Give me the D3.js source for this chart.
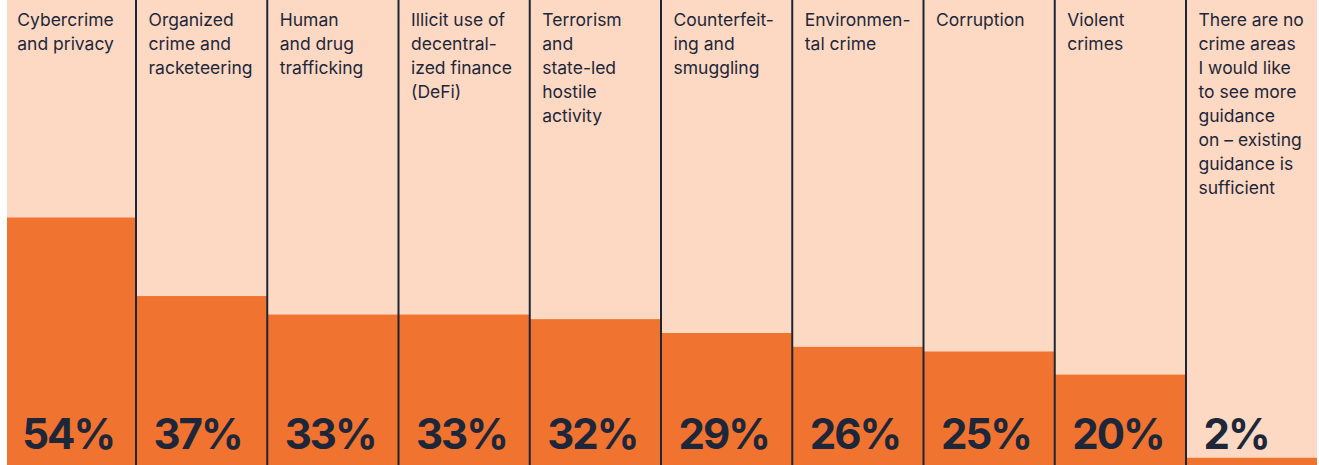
<!DOCTYPE html>
<html>
<head>
<meta charset="utf-8">
<script src="https://cdn.jsdelivr.net/npm/d3@7"></script>
<style>
  html, body { margin: 0; padding: 0; background: #ffffff; }
  svg { display: block; }
</style>
</head>
<body>
<svg id="chart" width="1319" height="465"></svg>
<script>
// Crime areas where respondents would like more guidance
const categories = [
  "Cybercrime and privacy",
  "Organized crime and racketeering",
  "Human and drug trafficking",
  "Illicit use of decentralized finance (DeFi)",
  "Terrorism and state-led hostile activity",
  "Counterfeiting and smuggling",
  "Environmental crime",
  "Corruption",
  "Violent crimes",
  "There are no crime areas I would like to see more guidance on – existing guidance is sufficient"
];
const labelLines = [
  ["Cybercrime", "and privacy"],
  ["Organized", "crime and", "racketeering"],
  ["Human", "and drug", "trafficking"],
  ["Illicit use of", "decentral-", "ized finance", "(DeFi)"],
  ["Terrorism", "and", "state-led", "hostile", "activity"],
  ["Counterfeit-", "ing and", "smuggling"],
  ["Environmen-", "tal crime"],
  ["Corruption"],
  ["Violent", "crimes"],
  ["There are no", "crime areas", "I would like", "to see more", "guidance", "on – existing", "guidance is", "sufficient"]
];
const shares = [54, 37, 33, 33, 32, 29, 26, 25, 20, 2];

const W = 1319, H = 465;
const svg = d3.select("#chart");

const colors = { bg: "#fdd9c4", fill: "#f17330", ink: "#1d2739", rule: "#1c2636" };

const x = d3.scaleBand().domain(categories).range([4.75, 1317.25]).padding(0);
const y = d3.scaleLinear().domain([0, 100]).range([467, 5]);

svg.append("defs").append("clipPath").attr("id", "plot-clip")
  .append("rect").attr("x", 7).attr("y", 0).attr("width", 1310).attr("height", H);

const g = svg.append("g").attr("clip-path", "url(#plot-clip)");

const data = categories.map((c, i) => ({ cat: c, value: shares[i], lines: labelLines[i] }));

const col = g.selectAll("g.col").data(data).join("g").attr("class", "col");

// Column background
col.append("rect")
  .attr("x", d => x(d.cat)).attr("y", 0)
  .attr("width", x.bandwidth()).attr("height", H)
  .attr("fill", colors.bg);

// Value bar
col.append("rect")
  .attr("x", d => x(d.cat)).attr("y", d => y(d.value))
  .attr("width", x.bandwidth()).attr("height", d => y(0) - y(d.value))
  .attr("fill", colors.fill);

// Category labels
col.append("text")
  .attr("font-family", "Inter, 'Noto Sans', sans-serif")
  .attr("font-size", 17.5)
  .attr("fill", colors.ink)
  .selectAll("tspan").data(d => d.lines.map(l => ({ l, x0: x(d.cat) })))
  .join("tspan")
  .attr("x", t => t.x0 + 12.5)
  .attr("y", (t, j) => 25.5 + j * 24)
  .text(t => t.l);

// Value labels
col.append("text")
  .attr("x", d => x(d.cat) + 17.5)
  .attr("y", 449)
  .attr("font-family", "Inter, 'Noto Sans', sans-serif")
  .attr("font-size", 42)
  .attr("font-weight", 700)
  .attr("letter-spacing", -2)
  .attr("fill", colors.ink)
  .text(d => d.value + "%");

// Column dividers
g.selectAll("line.sep").data(categories.slice(1)).join("line")
  .attr("class", "sep")
  .attr("x1", d => x(d)).attr("x2", d => x(d))
  .attr("y1", 0).attr("y2", H)
  .attr("stroke", colors.rule).attr("stroke-width", 2);
</script>
</body>
</html>
